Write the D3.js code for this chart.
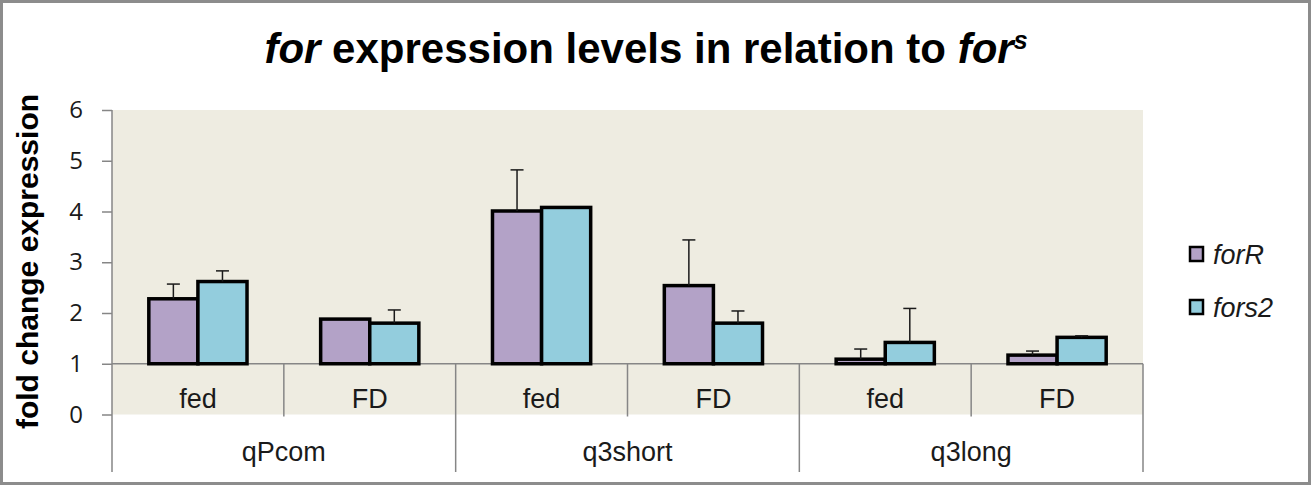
<!DOCTYPE html>
<html>
<head>
<meta charset="utf-8">
<script src="https://cdn.jsdelivr.net/npm/d3@7"></script>
<style>
  body { margin: 0; background: #fff; }
  svg { display: block; font-family: 'Liberation Sans', Arial, sans-serif; }
</style>
</head>
<body>
<div id="chart"></div>
<script>
// chart values
const categories = ['fed', 'FD', 'fed', 'FD', 'fed', 'FD']
const groups = ['qPcom', 'q3short', 'q3long']
const seriesNames = ['forR', 'fors2']
const forR = [2.28, 1.88, 4.01, 2.54, 1.09, 1.17]
const forRErr = [0.29, 0, 0.81, 0.90, 0.20, 0.08]
const fors2 = [2.62, 1.80, 4.08, 1.80, 1.42, 1.52]
const fors2Err = [0.21, 0.26, 0, 0.24, 0.67, 0.03]
const yTicks = [0, 1, 2, 3, 4, 5, 6]

const colors = { forR: '#b3a2c7', fors2: '#93cddd' }
const width = 1314
const height = 486
const plot = { left: 112, right: 1143, top: 110, bottom: 414.5 }

const svg = d3.select('#chart')
  .append('svg')
    .attr('width', width)
    .attr('height', height)

// chart border
svg.append('rect')
  .attr('x', 1.5).attr('y', 1.5)
  .attr('width', 1308).attr('height', 482)
  .attr('fill', '#fff')
  .attr('stroke', '#8c8c8c')
  .attr('stroke-width', 3)

const yScale = d3.scaleLinear()
  .domain([0, 6])
  .range([plot.bottom, plot.top])

const xScale = d3.scaleBand()
  .domain(d3.range(categories.length))
  .range([plot.left, plot.right])

const groupScale = d3.scaleBand()
  .domain(groups)
  .range([plot.left, plot.right])

const seriesScale = d3.scaleBand()
  .domain(seriesNames)
  .range([0, xScale.bandwidth()])
  .paddingInner(0)
  .paddingOuter(0.75)

// plot background
svg.append('rect')
  .attr('x', plot.left).attr('y', yScale(6))
  .attr('width', plot.right - plot.left)
  .attr('height', yScale(0) - yScale(6))
  .attr('fill', '#eeece1')

// y axis
const yAxis = svg.append('g')
  .attr('transform', `translate(${plot.left},0)`)
  .call(d3.axisLeft(yScale).tickValues(yTicks).tickFormat(d3.format('d')).tickSize(10).tickPadding(19))
yAxis.select('.domain').remove()
yAxis.selectAll('.tick line').attr('stroke', '#868686').attr('stroke-width', 1.5)
yAxis.selectAll('.tick text')
  .attr('font-family', "'Open Sans', sans-serif")
  .attr('font-size', 24)
  .attr('fill', '#1a1a1a')

const axisColor = '#868686'
const bottomY = 472
svg.append('line')
  .attr('x1', plot.left).attr('x2', plot.left)
  .attr('y1', yScale(6)).attr('y2', bottomY)
  .attr('stroke', axisColor).attr('stroke-width', 1.5)

// category axis, crossing at 1
svg.append('line')
  .attr('x1', plot.left).attr('x2', plot.right)
  .attr('y1', yScale(1)).attr('y2', yScale(1))
  .attr('stroke', axisColor).attr('stroke-width', 1.5)

svg.selectAll('.subdiv')
  .data([1, 3, 5])
  .enter().append('line')
    .attr('x1', d => xScale(d)).attr('x2', d => xScale(d))
    .attr('y1', yScale(1)).attr('y2', yScale(0) + 2)
    .attr('stroke', axisColor).attr('stroke-width', 1.5)

svg.selectAll('.groupdiv')
  .data(groups.slice(1).concat(['end']))
  .enter().append('line')
    .attr('x1', d => d === 'end' ? plot.right : groupScale(d))
    .attr('x2', d => d === 'end' ? plot.right : groupScale(d))
    .attr('y1', yScale(1)).attr('y2', bottomY)
    .attr('stroke', axisColor).attr('stroke-width', 1.5)

svg.selectAll('.catlabel')
  .data(categories)
  .enter().append('text')
    .attr('x', (d, i) => xScale(i) + xScale.bandwidth() / 2)
    .attr('y', 408)
    .attr('text-anchor', 'middle')
    .attr('font-size', 27)
    .attr('fill', '#1a1a1a')
    .text(d => d)

svg.selectAll('.grouplabel')
  .data(groups)
  .enter().append('text')
    .attr('x', d => groupScale(d) + groupScale.bandwidth() / 2)
    .attr('y', 461)
    .attr('text-anchor', 'middle')
    .attr('font-size', 27)
    .attr('fill', '#1a1a1a')
    .text(d => d)

// bars
const series = [
  { name: 'forR', values: forR, errs: forRErr },
  { name: 'fors2', values: fors2, errs: fors2Err }
]

series.forEach(s => {
  const rows = s.values.map((v, i) => ({ i, v, e: s.errs[i] }))

  svg.selectAll(`.bar-${s.name}`)
    .data(rows)
    .enter().append('rect')
      .attr('x', d => xScale(d.i) + seriesScale(s.name))
      .attr('y', d => yScale(Math.max(d.v, 1)))
      .attr('width', seriesScale.bandwidth())
      .attr('height', d => Math.abs(yScale(1) - yScale(d.v)))
      .attr('fill', colors[s.name])
      .attr('stroke', '#000')
      .attr('stroke-width', 3.5)
})

series.forEach(s => {
  const rows = s.values.map((v, i) => ({ i, v, e: s.errs[i] })).filter(d => d.e > 0)
  const cx = d => xScale(d.i) + seriesScale(s.name) + seriesScale.bandwidth() / 2

  svg.selectAll(`.err-${s.name}`)
    .data(rows)
    .enter().append('line')
      .attr('x1', cx).attr('x2', cx)
      .attr('y1', d => yScale(d.v)).attr('y2', d => yScale(d.v + d.e))
      .attr('stroke', '#1a1a1a').attr('stroke-width', 1.5)

  svg.selectAll(`.cap-${s.name}`)
    .data(rows)
    .enter().append('line')
      .attr('x1', d => cx(d) - 6.5).attr('x2', d => cx(d) + 6.5)
      .attr('y1', d => yScale(d.v + d.e)).attr('y2', d => yScale(d.v + d.e))
      .attr('stroke', '#1a1a1a').attr('stroke-width', 1.5)
})

// title
const title = svg.append('text')
  .attr('x', 646)
  .attr('y', 63)
  .attr('text-anchor', 'middle')
  .attr('font-size', 42)
  .attr('font-weight', 'bold')
  .attr('fill', '#000')
title.append('tspan').attr('font-style', 'italic').text('for')
title.append('tspan').text(' expression levels in relation to ')
title.append('tspan').attr('font-style', 'italic').text('for')
title.append('tspan').attr('font-style', 'italic').attr('font-size', 25).attr('dy', -14).text('s')

// y axis title
svg.append('text')
  .attr('transform', `translate(38,${(93 + 430) / 2}) rotate(-90)`)
  .attr('text-anchor', 'middle')
  .attr('font-size', 30)
  .attr('font-weight', 'bold')
  .attr('fill', '#000')
  .text('fold change expression')

// legend
const legend = svg.selectAll('.legend')
  .data(seriesNames)
  .enter().append('g')
    .attr('transform', (d, i) => `translate(1190,${254 + i * 53})`)

legend.append('rect')
  .attr('x', 0).attr('y', -7)
  .attr('width', 13).attr('height', 14)
  .attr('fill', d => colors[d])
  .attr('stroke', '#000')
  .attr('stroke-width', 2.5)

legend.append('text')
  .attr('x', 23)
  .attr('y', 10)
  .attr('font-size', 27)
  .attr('font-style', 'italic')
  .attr('fill', '#1a1a1a')
  .text(d => d)
</script>
</body>
</html>
